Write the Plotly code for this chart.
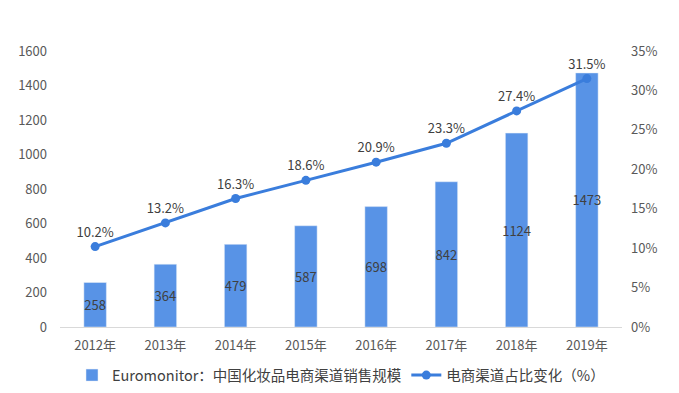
import plotly.graph_objects as go

years = ["2012年", "2013年", "2014年", "2015年", "2016年", "2017年", "2018年", "2019年"]
sales = [258, 364, 479, 587, 698, 842, 1124, 1473]
share = [10.2, 13.2, 16.3, 18.6, 20.9, 23.3, 27.4, 31.5]
left_ticks = [0, 200, 400, 600, 800, 1000, 1200, 1400, 1600]
right_ticks = [0, 5, 10, 15, 20, 25, 30, 35]

font_family = "Noto Sans CJK SC, Noto Sans, sans-serif"

fig = go.Figure()
fig.add_trace(go.Bar(
    x=years, y=sales, name="Euromonitor：中国化妆品电商渠道销售规模",
    marker_color="#5893E6", text=[str(v) for v in sales], textposition="inside",
    insidetextanchor="middle", textangle=0, constraintext="none",
    textfont=dict(color="#404040", size=13),
    yaxis="y",
))
fig.add_trace(go.Scatter(
    x=years, y=share, name="电商渠道占比变化（%）", mode="lines+markers+text",
    line=dict(color="#3A7DDC", width=3), marker=dict(size=9, color="#3A7DDC"),
    text=[f"{v}%" for v in share], textposition="top center",
    textfont=dict(color="#404040", size=13), yaxis="y2",
))

fig.update_layout(
    width=679, height=393,
    margin=dict(l=52, r=65, t=43, b=74, autoexpand=False),
    paper_bgcolor="white", plot_bgcolor="white",
    font=dict(family=font_family, size=13, color="#595959"),
    bargap=0.68,
    showlegend=True,
    legend=dict(orientation="h", x=0.5, xanchor="center", y=0.025, yanchor="bottom",
                yref="container", itemwidth=30, tracegroupgap=0,
                font=dict(size=14.5, color="#404040"), traceorder="normal"),
    xaxis=dict(showline=True, linecolor="#D9D9D9", ticks="", showgrid=False,
               tickfont=dict(size=13, color="#595959"), ticklabelstandoff=6),
    yaxis=dict(range=[0, 1600], tickvals=left_ticks, showgrid=False, zeroline=False,
               tickfont=dict(size=13, color="#595959"), ticklabelstandoff=12),
    yaxis2=dict(range=[0, 35], tickvals=right_ticks, ticktext=[f"{t}%" for t in right_ticks],
                overlaying="y", side="right", showgrid=False, zeroline=False,
                tickfont=dict(size=13, color="#595959"), ticklabelstandoff=8),
)

fig.write_html("out.html")
